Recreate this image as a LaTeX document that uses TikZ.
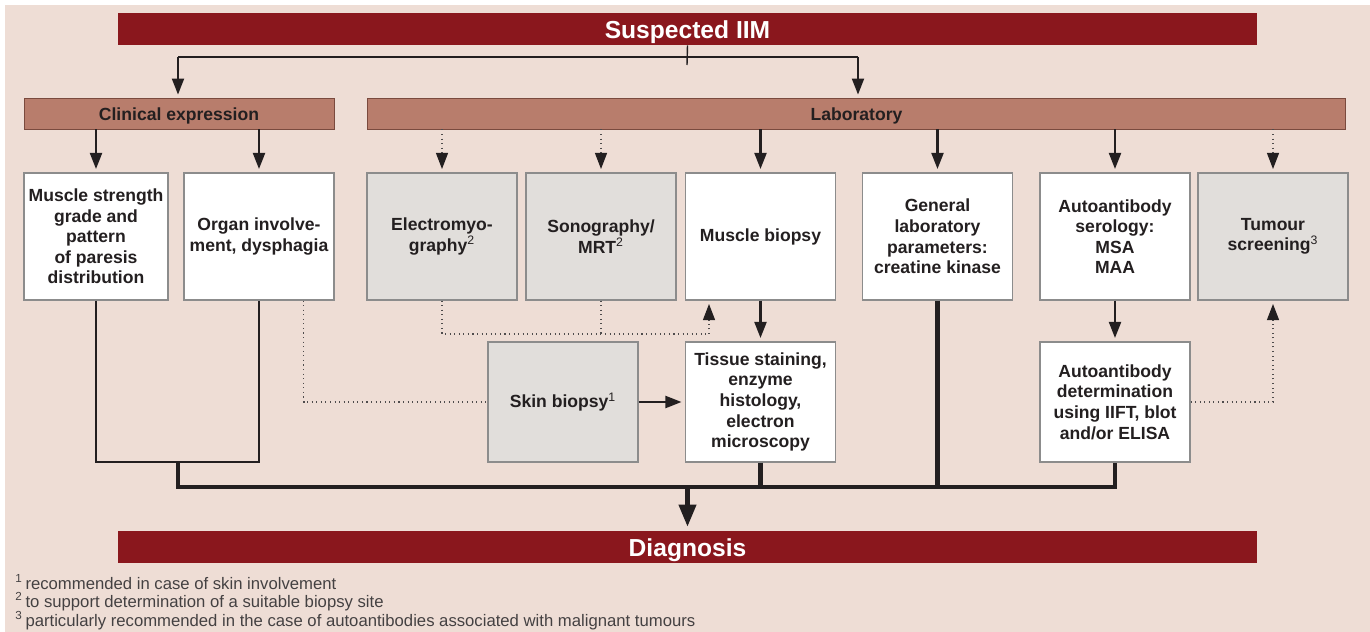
\documentclass[tikz,border=0pt]{standalone}
\usepackage{fontspec}
\setmainfont{Liberation Sans}
\usepackage{tikz}
\usetikzlibrary{arrows.meta,calc}
\definecolor{iimred}{HTML}{8A171D}
\definecolor{iimbar}{HTML}{B87D6C}
\definecolor{iimbarline}{HTML}{7A4A3E}
\definecolor{iimback}{HTML}{EEDDD5}
\definecolor{iimgrey}{HTML}{E1DEDB}
\definecolor{iimline}{HTML}{231F20}
\definecolor{iimframe}{HTML}{8C8C8C}

\begin{document}
\begin{tikzpicture}[x=0.02cm,y=-0.02cm,
  bar/.style={fill=iimred,text=white,font=\bfseries\fontsize{14}{16}\selectfont,minimum width=22.78cm,minimum height=0.64cm,inner sep=0pt,text height=11.5pt,text depth=0.5pt},
  head/.style={fill=iimbar,draw=iimbarline,line width=0.5pt,text=iimline,font=\bfseries\fontsize{10}{12}\selectfont,minimum height=0.62cm,inner sep=0pt,text height=9pt,text depth=1pt},
  ibox/.style={fill=white,draw=iimframe,line width=0.6pt,text=iimline,align=center,font=\bfseries\fontsize{10}{11.7}\selectfont,minimum width=3cm,minimum height=2.54cm,inner sep=1pt},
  igreybox/.style={ibox,fill=iimgrey},
  arr/.style={draw=iimline,line width=1.15pt,shorten >=0.07cm,-{Triangle[length=0.32cm,width=0.24cm]}},
  dotarr/.style={draw=iimline!80,line width=0.6pt,dotted,shorten >=0.07cm,-{Triangle[length=0.32cm,width=0.24cm,color=iimline,fill=iimline]}},
  dotline/.style={draw=iimline!80,line width=0.6pt,dotted},
  linethin/.style={draw=iimline,line width=0.8pt},
  trunk/.style={draw=iimline,line width=2.3pt},
  note/.style={anchor=west,text=iimline!85,font=\fontsize{9.5}{11}\selectfont,inner sep=0pt}]
\useasboundingbox (0,0) rectangle (1370,632);
\fill[iimback] (5,5) rectangle (1370,632);

\node[bar] (suspect) at (687.5,29) {Suspected IIM};
\node[bar] (diagnosis) at (687.5,547) {Diagnosis};
\node[head,minimum width=6.2cm] (clinical) at (179,113.5) {Clinical expression};
\node[head,minimum width=19.58cm] (lab) at (856.5,113.5) {Laboratory};

\node[ibox,minimum width=2.88cm] (ms) at (96,236.5) {Muscle strength\\grade and\\pattern\\of paresis\\distribution};
\node[ibox] (organ) at (259,236.5) {Organ involve-\\ment, dysphagia};
\node[igreybox] (emg) at (442,236.5) {Electromyo-\\graphy\textsuperscript{\mdseries 2}};
\node[igreybox] (sono) at (601,236.5) {Sonography/\\MRT\textsuperscript{\mdseries 2}};
\node[ibox] (mbiopsy) at (760.5,236.5) {Muscle biopsy};
\node[ibox] (general) at (937.5,236.5) {General\\laboratory\\parameters:\\creatine kinase};
\node[ibox] (serology) at (1115,236.5) {Autoantibody\\serology:\\MSA\\MAA};
\node[igreybox] (tumour) at (1273,236.5) {Tumour\\screening\textsuperscript{\mdseries 3}};

\node[igreybox,minimum height=2.4cm] (skin) at (563,402) {Skin biopsy\textsuperscript{\mdseries 1}};
\node[ibox,minimum height=2.4cm] (tissue) at (760.5,402) {Tissue staining,\\enzyme\\histology,\\electron\\microscopy};
\node[ibox,minimum height=2.4cm] (determination) at (1115,402) {Autoantibody\\determination\\using IIFT, blot\\and/or ELISA};

\coordinate (tl) at (178,57);
\coordinate (tr) at (858,57);
\draw[linethin] (suspect.south) -- (687,65);
\draw[linethin] (tl) -- (tr);
\draw[arr,shorten >=0.06cm] (tl) -- (tl |- clinical.north);
\draw[arr,shorten >=0.06cm] (tr) -- (tr |- lab.north);

\foreach \b in {ms,organ}
  \draw[arr] (\b.north |- clinical.south) -- (\b.north);
\foreach \b in {mbiopsy,general,serology}
  \draw[arr] (\b.north |- lab.south) -- (\b.north);
\foreach \b in {emg,sono,tumour}
  \draw[dotarr] (\b.north |- lab.south) -- (\b.north);

\draw[arr] (mbiopsy.south) -- (tissue.north);
\draw[arr] (serology.south) -- (determination.north);
\draw[arr] (skin.east) -- (tissue.west);

\coordinate (ebase) at (709,334);
\draw[dotline] (emg.south) |- (ebase);
\draw[dotline] (sono.south) -- (sono.south |- ebase);
\draw[dotarr] (ebase) -- (ebase |- mbiopsy.south);
\draw[dotline] ($(organ.south east)+(-31,0)$) |- (skin.west);
\draw[dotarr] (determination.east) -| (tumour.south);

\coordinate (join) at (178,462);
\coordinate (busl) at (178,487);
\draw[linethin] (ms.south) |- (join) -| (organ.south);
\draw[trunk] (join) -- (busl) -- (determination.south |- busl) -- (determination.south);
\draw[trunk] (general.south) -- (general.south |- busl);
\draw[trunk] (tissue.south) -- (tissue.south |- busl);
\draw[trunk,shorten >=0.08cm,-{Triangle[length=0.44cm,width=0.34cm]}] (suspect.south |- busl) -- (diagnosis.north);

\node[note] (fn1) at (15,582) {\textsuperscript{1}\,recommended in case of skin involvement};
\node[note] (fn2) at (15,602) {\textsuperscript{2}\,to support determination of a suitable biopsy site};
\node[note] (fn3) at (15,621) {\textsuperscript{3}\,particularly recommended in the case of autoantibodies associated with malignant tumours};
\end{tikzpicture}
\end{document}
